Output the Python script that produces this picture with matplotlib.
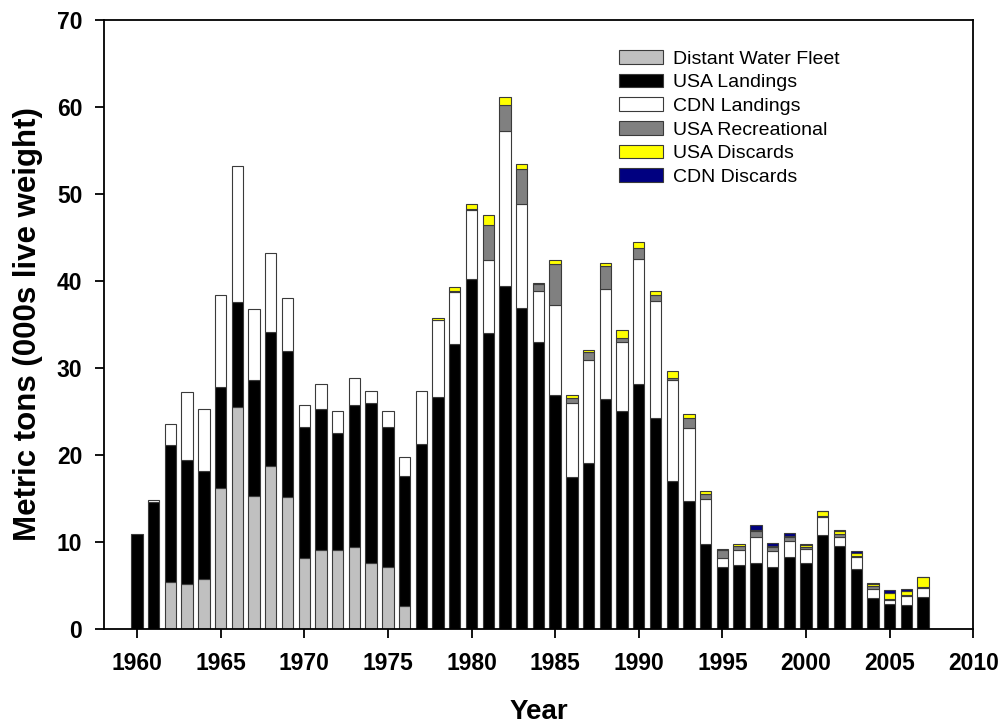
import numpy as np
import matplotlib
matplotlib.use('Agg')
import matplotlib.pyplot as plt

plt.rcParams['font.family'] = ['Liberation Sans', 'DejaVu Sans']

# Datos (miles de toneladas), 1960-2007
years = np.arange(1960, 2008)
dwf = [0, 0, 5.4, 5.2, 5.7, 16.2, 25.5, 15.3, 18.7, 15.1,
       8.1, 9.0, 9.1, 9.4, 7.6, 7.1, 2.6, 0, 0, 0,
       0, 0, 0, 0, 0, 0, 0, 0, 0, 0,
       0, 0, 0, 0, 0, 0, 0, 0, 0, 0,
       0, 0, 0, 0, 0, 0, 0, 0]
usa_land = [10.9, 14.6, 15.7, 14.2, 12.4, 11.6, 12.1, 13.3, 15.4, 16.9,
            15.1, 16.3, 13.4, 16.3, 18.4, 16.1, 15.0, 21.2, 26.7, 32.8,
            40.2, 34.0, 39.4, 36.9, 33.0, 26.9, 17.5, 19.1, 26.4, 25.1,
            28.2, 24.3, 17.0, 14.7, 9.75, 7.1, 7.3, 7.6, 7.1, 8.3,
            7.6, 10.8, 9.5, 6.9, 3.5, 2.8, 2.7, 3.7]
cdn_land = [0, 0.2, 2.4, 7.8, 7.2, 10.6, 15.6, 8.2, 9.1, 6.0,
            2.5, 2.9, 2.6, 3.2, 1.4, 1.8, 2.2, 6.2, 8.8, 5.9,
            8.0, 8.4, 17.9, 12.0, 5.8, 10.4, 8.5, 11.8, 12.7, 7.9,
            14.3, 13.4, 11.6, 8.4, 5.2, 1.0, 1.8, 2.9, 1.8, 1.8,
            1.6, 2.1, 1.1, 1.3, 1.1, 0.45, 1.1, 1.0]
usa_rec = [0, 0, 0, 0, 0, 0, 0, 0, 0, 0,
           0, 0, 0, 0, 0, 0, 0, 0, 0, 0.1,
           0.1, 4.1, 2.9, 4.0, 0.9, 4.7, 0.5, 0.9, 2.6, 0.5,
           1.3, 0.7, 0.3, 1.1, 0.6, 0.9, 0.4, 0.7, 0.45, 0.4,
           0.2, 0.1, 0.3, 0.15, 0.35, 0.2, 0.05, 0.1]
usa_disc = [0, 0, 0, 0, 0, 0, 0, 0, 0, 0,
            0, 0, 0, 0, 0, 0, 0, 0, 0.3, 0.5,
            0.6, 1.1, 1.0, 0.6, 0.1, 0.4, 0.4, 0.3, 0.4, 0.9,
            0.7, 0.4, 0.8, 0.5, 0.25, 0.15, 0.2, 0.15, 0.15, 0.2,
            0.2, 0.5, 0.35, 0.4, 0.2, 0.65, 0.45, 1.1]
cdn_disc = [0, 0, 0, 0, 0, 0, 0, 0, 0, 0,
            0, 0, 0, 0, 0, 0, 0, 0, 0, 0,
            0, 0, 0, 0, 0, 0, 0, 0, 0, 0,
            0, 0, 0, 0, 0, 0, 0, 0.55, 0.35, 0.35,
            0.1, 0.1, 0.15, 0.2, 0.1, 0.3, 0.3, 0.05]

series = [dwf, usa_land, cdn_land, usa_rec, usa_disc, cdn_disc]
labels = ['Distant Water Fleet', 'USA Landings', 'CDN Landings',
          'USA Recreational', 'USA Discards', 'CDN Discards']
colors = ['#c0c0c0', '#000000', '#ffffff', '#808080', '#ffff00', '#000080']

fig = plt.figure(figsize=(10.03, 7.25), dpi=100)
ax = fig.add_axes([0.1032, 0.1328, 0.8672, 0.8392])

bottom = np.zeros(len(years))
for vals, lab, col in zip(series, labels, colors):
    v = np.array(vals, dtype=float)
    m = v > 0
    ax.bar(years[m], v[m], width=0.68, bottom=bottom[m], color=col,
           edgecolor='#3a3a3a', linewidth=0.8, label=lab)
    bottom += v

ax.set_xlim(1958, 2010)
ax.set_ylim(0, 70)
ax.set_xticks(np.arange(1960, 2011, 5))
ax.set_yticks(np.arange(0, 71, 10))
for s in ax.spines.values():
    s.set_linewidth(1.3)
ax.tick_params(direction='out', length=6.3, width=1.3, labelsize=16.5)
ax.tick_params(axis='x', pad=10.5)
ax.tick_params(axis='y', pad=9)
for lbl in ax.get_xticklabels() + ax.get_yticklabels():
    lbl.set_fontweight('bold')

ax.set_xlabel('Year', fontsize=20, fontweight='bold', labelpad=17)
ax.set_ylabel('Metric tons (000s live weight)', fontsize=22.5, fontweight='bold', labelpad=10)

ax.legend(loc='upper left', bbox_to_anchor=(0.5927, 0.951), frameon=False,
          fontsize=14, handlelength=2.25, handleheight=0.7, handletextpad=0.5,
          labelspacing=0.31, borderpad=0, borderaxespad=0)

fig.savefig('out.png', dpi=100)
